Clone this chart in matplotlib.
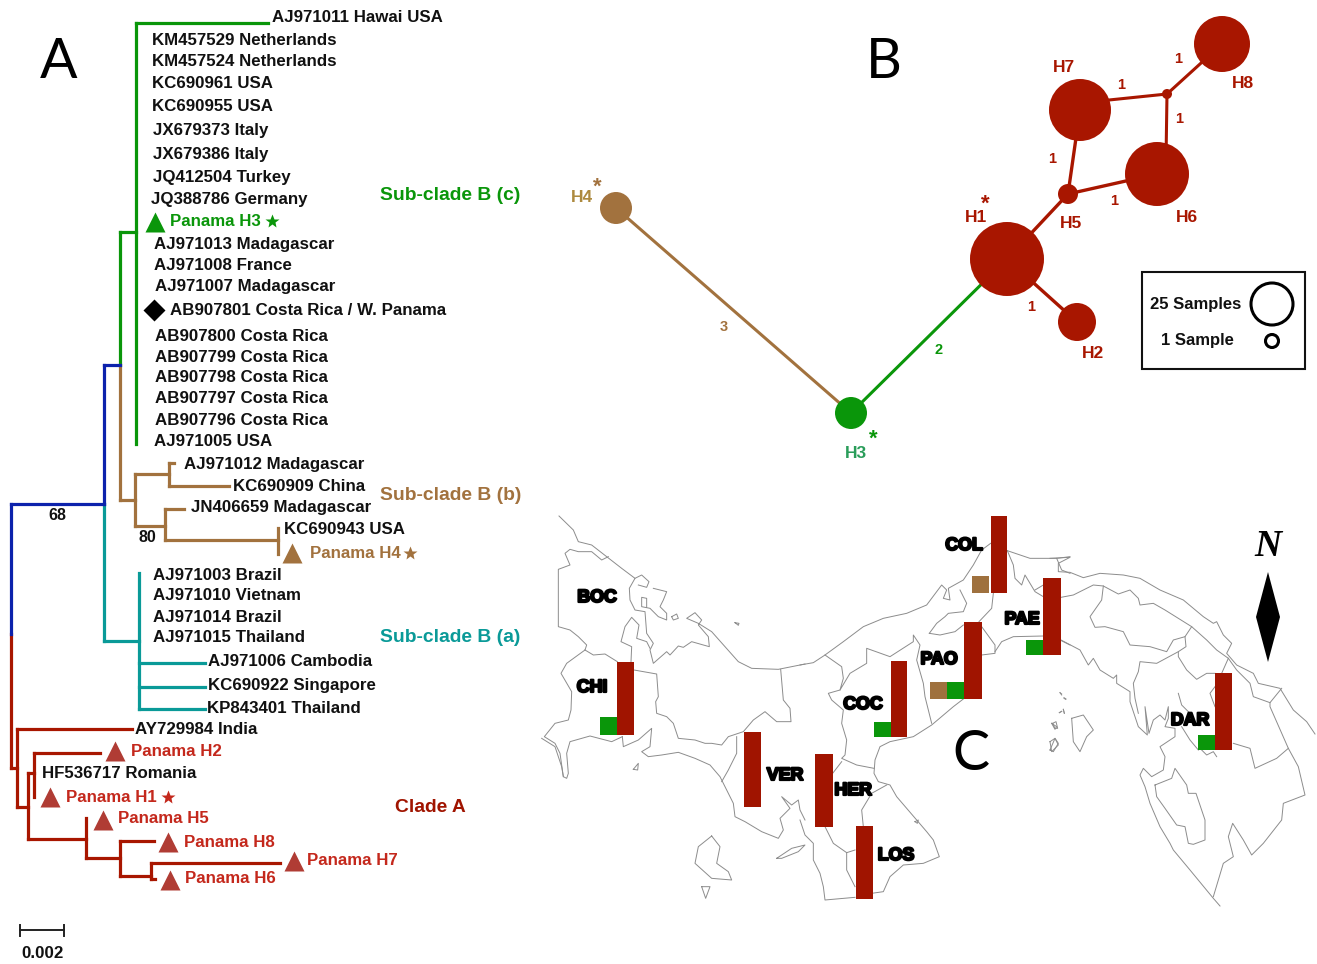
import matplotlib
matplotlib.use("Agg")
import matplotlib.pyplot as plt
import matplotlib.patheffects as pe
from matplotlib.patches import Circle, Rectangle

plt.rcParams['font.family'] = ['Liberation Sans', 'DejaVu Sans']

RED = '#a01400'; DRED = '#a81600'; TXTRED = '#c4281c'; GREEN = '#0a960a'; BROWN = '#a2723e'; TEAL = '#0a9a98'; BLUE = '#0c22ac'
TRI_RED = '#b03c34'

# ---------- A: tree ----------
tree_green = [((136,23),(268,23)), ((136,23),(136,444)), ((120,232),(136,232)), ((120,232),(120,365))]
tree_blue = [((104,365),(120,365)), ((104,365),(104,504)), ((11,504),(104,504)), ((11,504),(11,634))]
tree_brown = [((120,365),(120,500)), ((120,500),(134.5,500)), ((134.5,474),(134.5,526)), ((134.5,474),(168.5,474)),
              ((168.5,463),(168.5,485.5)), ((168.5,463),(174,463)), ((168.5,485.5),(229,485.5)),
              ((134.5,526),(165,526)), ((165,509),(165,540)), ((165,509),(184,509)), ((165,540),(278,540)), ((278,528),(278,554))]
tree_teal = [((104,504),(104,641)), ((104,641),(138.5,641)), ((138.5,573),(138.5,709)),
             ((138.5,663),(205,663)), ((138.5,686.5),(205,686.5)), ((138.5,709),(205,709))]
tree_red = [((11,634),(11,768)), ((11,768),(17,768)), ((17,729),(17,807)), ((17,729),(132,729)), ((17,807),(28,807)),
            ((28,773),(28,839)), ((28,773),(34,773)), ((34,753),(34,797)), ((34,753),(100,753)),
            ((28,839),(85.5,839)), ((85.5,818),(85.5,858)), ((85.5,858),(119.5,858)), ((119.5,840.5),(119.5,876)),
            ((119.5,840.5),(154,840.5)), ((119.5,876),(151,876)), ((151,862.6),(151,879)), ((151,862.6),(280,862.6)), ((151,879),(155,879))]

black_taxa = [("AJ971011 Hawai USA",272,17),("KM457529 Netherlands",152,40),("KM457524 Netherlands",152,61),
    ("KC690961 USA",152,83),("KC690955 USA",152,106),("JX679373 Italy",153,130),("JX679386 Italy",153,154),
    ("JQ412504 Turkey",153,177),("JQ388786 Germany",151,199),("AJ971013 Madagascar",154,244),("AJ971008 France",154,265),
    ("AJ971007 Madagascar",155,286),("AB907801 Costa Rica / W. Panama",170,310),("AB907800 Costa Rica",155,336),
    ("AB907799 Costa Rica",155,357),("AB907798 Costa Rica",155,377),("AB907797 Costa Rica",155,398),
    ("AB907796 Costa Rica",155,420),("AJ971005 USA",154,441),("AJ971012 Madagascar",184,464),("KC690909 China",233,486),
    ("JN406659 Madagascar",191,507),("KC690943 USA",284,529),("AJ971003 Brazil",153,575),("AJ971010 Vietnam",153,595),
    ("AJ971014 Brazil",153,617),("AJ971015 Thailand",153,637),("AJ971006 Cambodia",208,661),("KC690922 Singapore",208,685),
    ("KP843401 Thailand",207,708),("AY729984 India",135,729),("HF536717 Romania",42,773)]
panama_taxa = [("Panama H3",170,221,GREEN),("Panama H4",310,553,BROWN),("Panama H2",131,751,TXTRED),("Panama H1",66,797,TXTRED),
    ("Panama H5",118,818,TXTRED),("Panama H8",184,842,TXTRED),("Panama H7",307,860,TXTRED),("Panama H6",185,878,TXTRED)]
triangles = [(155,222,GREEN),(292,553,BROWN),(115,751,TRI_RED),(50,797,TRI_RED),(103,820,TRI_RED),(168,842,TRI_RED),(294,861,TRI_RED),(170,880,TRI_RED)]
stars = [(272,221,GREEN),(410,553,BROWN),(168,797,TXTRED)]
clade_labels = [("Sub-clade B (c)",380,194,GREEN),("Sub-clade B (b)",380,493,BROWN),("Sub-clade B (a)",380,636,TEAL),("Clade A",395,806,RED)]
support = [("68",57,515),("80",147,537)]

# ---------- B: haplotype network ----------
hap_names = ["H1","H2","H3","H4","H5","H6","H7","H8"]
hap_x = [1007,1077,851,616,1068,1157,1080,1222]
hap_y = [259,322,413,208,194,174,110,44]
hap_r = [37,19,16,16,10,32,31,28]
hap_col = [DRED,DRED,GREEN,BROWN,DRED,DRED,DRED,DRED]
junction = (1167,94,5)
edges = [("H4","H3",BROWN,2.2),("H3","H1",GREEN,2.2),("H1","H2",DRED,2.4),("H1","H5",DRED,2.4),("H5","H7",DRED,2.4),("H5","H6",DRED,2.4)]
junction_ends = [(1080,103),(1166,160),(1222,44)]
hap_labels = [("H4",582,198,'#ad8a3f'),("H3",856,453,'#2a9d5a'),("H1",976,217,DRED),("H5",1071,223,DRED),("H6",1187,217,DRED),
              ("H7",1064,67,DRED),("H8",1243,84,DRED),("H2",1093,353,DRED)]
hap_stars = [(597,184,BROWN),(873,436,GREEN),(985,201,DRED)]
edge_labels = [("3",724,327,BROWN),("2",939,350,GREEN),("1",1031,307,DRED),("1",1052,159,DRED),("1",1114,201,DRED),
               ("1",1121,85,DRED),("1",1178,59,DRED),("1",1179,119,DRED)]

# ---------- C: map outline traces (x, y in crop units: origin + value/3) ----------
map_left = [
 [(72,18),(115,60),(130,95),(170,105),(215,140),(260,175),(300,205),(283,235),(285,270),(300,300),(330,305),(335,370),(355,400),(345,420),(355,460),(395,425),(405,435),(430,408),(445,412),(470,395),(505,405),(523,410),(520,380),(490,345),(500,330),(480,308),(455,325),(490,340),(530,365),(570,410),(610,455),(650,475),(730,478),(810,462)],
 [(300,205),(320,195),(342,215),(335,232),(310,225)],
 [(355,235),(395,245),(385,270),(375,290),(395,310),(395,330),(370,320),(345,295),(320,290),(320,262),(335,265),(335,290)],
 [(150,420),(155,405),(130,380),(105,360),(70,350),(70,178),(105,165),(90,130),(105,118),(130,125),(170,125),(200,150),(220,140)],
 [(150,420),(175,435),(210,432),(247,455)],
 [(288,455),(290,410),(258,395),(270,350),(290,322),(312,345),(305,385),(335,395),(345,415)],
 [(150,420),(95,460),(78,490),(110,545),(108,600),(100,630),(60,640),(28,680),(60,700),(75,730),(85,800),(95,805),(100,790),(95,730),(105,695),(165,678),(230,695),(262,680)],
 [(20,685),(60,710),(80,770),(85,800)],
 [(297,480),(365,492),(370,560),(362,575),(365,610),(395,620),(415,640),(430,685),(480,690),(510,700),(530,700),(560,705),(580,680),(625,665),(655,630),(690,605),(725,635),(768,635),(765,595),(745,570),(737,478)],
 [(262,680),(265,710),(310,690),(350,655),(345,710),(320,725),(340,740),(380,735),(430,727),(480,745),(525,765),(555,800),(575,840),(595,880),(600,920),(630,935),(680,965),(730,985),(745,960),(735,925),(765,895),(740,860),(770,885),(790,870),(795,900),(810,930)],
 [(605,680),(605,730),(580,780),(560,815)],
 [(530,978),(490,1010),(480,1060),(530,1105),(590,1110),(580,1085),(545,1060),(555,1010),(530,978)],
 [(500,1130),(525,1130),(512,1165),(500,1130)],
 [(295,778),(310,760),(308,780),(295,778)],
 [(410,320),(425,312),(430,325),(415,330),(410,320)],
 [(600,338),(612,340),(610,346),(600,338)],
 [(725,1045),(770,1015),(810,1005),(790,1025),(740,1045),(725,1045)],
]
map_mid = [
 [(0,465),(40,458),(75,435),(130,395),(190,350),(250,325),(320,310),(380,285),(425,225),(440,240),(430,265),(450,270),(445,235),(490,210),(520,165),(545,120),(572,100)],
 [(622,122),(690,145),(770,145),(785,180),(810,190)],
 [(770,145),(810,140)],
 [(75,435),(125,470),(130,505),(120,540),(150,490),(200,460),(200,415),(270,440),(340,395),(340,375),(360,405),(350,450),(370,520),(375,560),(395,640)],
 [(120,540),(85,550),(95,570),(130,600),(125,640),(140,690),(135,735),(125,745),(170,765),(222,775)],
 [(98,790),(125,755)],
 [(490,567),(460,590),(395,645),(340,680),(270,695),(240,710),(225,750),(222,790),(235,815),(270,825),(290,860),(350,930),(380,965),(400,990),(418,1040),(370,1060),(310,1065),(270,1100),(250,1145),(215,1150)],
 [(165,1162),(75,1170),(70,1130),(60,1090),(40,1050),(40,1000),(15,975),(0,930)],
 [(260,825),(215,850),(185,900),(190,950)],
 [(75,950),(100,1000),(140,1028),(165,1020)],
 [(140,1028),(140,1080),(165,1130)],
 [(388,370),(410,340),(435,320),(445,310),(490,305),(500,280),(480,240)],
 [(388,370),(420,375),(465,365),(490,345)],
 [(537,335),(575,295),(580,250)],
 [(545,350),(585,405),(585,430),(545,435)],
 [(585,425),(605,395),(640,380),(730,378)],
 [(622,122),(640,165),(645,205),(665,225),(675,195),(705,245),(730,260)],
 [(705,240),(730,225)],
 [(784,392),(810,405)],
 [(345,935),(355,930),(352,940),(345,935)],
 [(758,640),(768,635),(773,655),(765,655),(758,640)],
 [(750,720),(765,685),(775,700),(760,725),(750,720)],
 [(780,548),(785,552)],[(792,565),(797,568)],[(778,608),(785,604)],[(790,598),(793,610)],
]
map_right = [
 [(0,145),(60,142),(25,160),(25,185),(60,187),(100,203),(150,190),(220,195),(270,205),(330,240),(400,270),(460,320),(490,340),(500,335),(520,375),(545,400),(530,430),(560,465),(610,490),(625,520),(690,535),(730,600),(770,635),(795,672)],
 [(33,262),(70,255),(130,225),(160,228),(205,252),(240,240),(265,265),(270,285),(310,280),(345,300),(385,325),(425,350),(470,390),(500,420),(535,445),(560,480),(600,520),(610,560),(660,578),(695,535)],
 [(160,228),(155,270),(120,320),(135,352),(165,350),(220,365),(240,405),(300,410),(350,425),(370,390),(405,380),(425,350)],
 [(405,380),(408,410),(385,425),(385,440),(410,480),(440,508),(470,490),(495,490)],
 [(535,445),(515,490)],
 [(385,425),(320,460),(270,455),(265,485),(250,520),(255,565),(265,610)],
 [(33,390),(90,420),(115,465),(130,445),(150,480),(190,505),(200,495),(200,520),(240,545),(240,575),(265,650),(292,675),(285,590),(297,670),(310,630),(330,615),(345,630),(355,590),(355,625),(345,650),(375,655),(375,680),(330,710),(345,740),(340,780),(305,800),(280,775),(270,795),(285,830),(300,880),(330,950),(360,1000),(370,1020),(420,1080),(490,1165),(510,1188)],
 [(490,1160),(520,1060),(550,1040),(535,980),(548,940),(580,990),(605,1035),(640,1000),(695,930),(700,880),(765,855),(745,770),(715,715),(660,590),(660,578)],
 [(715,715),(680,745),(615,775),(600,715),(550,700)],
 [(315,825),(365,805),(375,775),(410,825),(415,850),(438,850),(465,930),(465,990),(430,1003),(415,1000),(405,950),(380,945),(345,895),(320,860),(315,825)],
 [(385,550),(395,585),(420,610)],[(395,650),(420,690),(445,720)],[(455,720),(470,735),(490,725),(500,740)],[(495,530),(480,550),(495,590)],
 [(65,625),(100,615),(130,660),(110,680),(90,725),(70,695),(65,625)],
 [(5,640),(20,650),(15,658),(5,640)],[(0,695),(15,685),(25,705),(5,725),(0,695)],
 [(30,548),(35,555)],[(42,563),(48,567)],[(28,608),(35,604)],[(40,598),(43,610)],
]
map_origins = [(535,510),(800,510),(1050,510)]

provinces = ["CHI","VER","COC","PAO","COL","PAE","HER","LOS","DAR"]
prov_x = [617.3,744.3,890.7,964,990.7,1043.3,815,856,1215.3]
prov_top = [661.7,732.3,660.7,622,515.7,578,754.3,826.3,673.3]
red_h = [73.3,74.4,76.6,77,77.6,77,72.7,72.7,76.7]
red_w = [16.7,16.7,16.6,17.7,16.6,18,17.7,16.7,16.4]
green_h = [17.7,0,15.3,16.7,0,15,0,0,15]
brown_h = [0,0,0,16.7,17.3,0,0,0,0]
map_labels = [("BOC",597,596),("CHI",592,686),("VER",785,774),("COC",863,703),("HER",853,789),("LOS",896,854),
              ("PAO",939,658),("COL",964,544),("PAE",1022,618),("DAR",1190,719)]

fig = plt.figure(figsize=(13.17,9.64), dpi=100)
ax = fig.add_axes([0,0,1,1])
ax.set_xlim(0,1317); ax.set_ylim(964,0); ax.axis('off')

# tree
for segs,c in [(tree_green,GREEN),(tree_brown,BROWN),(tree_teal,TEAL),(tree_red,DRED),(tree_blue,BLUE)]:
    for (a,b) in segs:
        ax.plot([a[0],b[0]],[a[1],b[1]],color=c,lw=2.3,solid_capstyle='projecting',zorder=2)
ax.plot([20,64],[930,930],color='#222222',lw=1.4)
for x in (20,64):
    ax.plot([x,x],[925,936],color='#222222',lw=1.4)
tk = dict(fontsize=12.2,fontweight='bold',va='center',ha='left')
for t,x,y in black_taxa:
    ax.text(x,y+0.5,t,color='#111111',**tk)
for t,x,y,c in panama_taxa:
    ax.text(x,y+0.5,t,color=c,**tk)
for x,y,c in triangles:
    ax.plot([x],[y],marker='^',ms=15,color=c,mec='none',ls='none',zorder=3)
ax.plot([154],[310],marker='D',ms=11.5,color='k',mec='none',ls='none',zorder=3)
for x,y,c in stars:
    ax.plot([x],[y],marker='*',ms=10,color=c,mec='none',ls='none')
for t,x,y,c in clade_labels:
    ax.text(x,y+2,t,color=c,fontsize=13.9,fontweight='bold',va='center',ha='left')
for t,x,y in support:
    ax.text(x,y,t,color='#111111',fontsize=11.5,fontweight='bold',va='center',ha='center')
ax.text(42,954,"0.002",color='#111111',fontsize=12.2,fontweight='bold',va='center',ha='center')

# network
pos = {n:(x,y) for n,x,y in zip(hap_names,hap_x,hap_y)}
for a,b,c,lw in edges:
    ax.plot([pos[a][0],pos[b][0]],[pos[a][1],pos[b][1]],color=c,lw=lw,zorder=2)
for ex,ey in junction_ends:
    ax.plot([junction[0],ex],[junction[1],ey],color=DRED,lw=2.2,zorder=2)
for x,y,r,c in zip(hap_x,hap_y,hap_r,hap_col):
    ax.add_patch(Circle((x,y),r,color=c,ec='none',zorder=3))
ax.add_patch(Circle(junction[:2],junction[2],color=DRED,ec='none',zorder=3))
for t,x,y,c in hap_labels:
    ax.text(x,y,t,color=c,fontsize=12.5,fontweight='bold',va='center',ha='center')
for t,x,y,c in edge_labels:
    ax.text(x,y,t,color=c,fontsize=10.5,fontweight='bold',va='center',ha='center')
for x,y,c in hap_stars:
    ax.text(x,y+3,"*",color=c,fontsize=16,fontweight='bold',va='center',ha='center',clip_on=False)
ax.add_patch(Rectangle((1142,272),163,97,fc='white',ec='#111111',lw=1.5,zorder=2))
ax.add_patch(Circle((1272,304),21,fc='white',ec='k',lw=2.2,zorder=3))
ax.add_patch(Circle((1272,341),6.5,fc='white',ec='k',lw=2.2,zorder=3))
ax.text(1196,304,"25 Samples",fontsize=12,fontweight='bold',color='#111111',va='center',ha='center')
ax.text(1197,340,"1 Sample",fontsize=12,fontweight='bold',color='#111111',va='center',ha='center')

# map
for traces,(ox,oy) in zip((map_left,map_mid,map_right),map_origins):
    for tr in traces:
        ax.plot([ox+p[0]/3 for p in tr],[oy+p[1]/3 for p in tr],color='#8c8c8c',lw=0.7,zorder=1,solid_joinstyle='round')
SQ = 17
for n,x,top,rh,rw,gh,bh in zip(provinces,prov_x,prov_top,red_h,red_w,green_h,brown_h):
    ax.bar(x,rh,width=rw,bottom=top,align='edge',color=RED,ec='none',zorder=4)
    base = top+rh
    nx = x
    if gh:
        nx -= SQ
        ax.bar(nx,gh,width=SQ,bottom=base-gh,align='edge',color=GREEN,ec='none',zorder=4)
    if bh:
        nx -= SQ+(1.3 if not gh else 0)
        ax.bar(nx,bh,width=SQ,bottom=base-bh,align='edge',color='#9f713e',ec='none',zorder=4)
for t,x,y in map_labels:
    ax.text(x,y+1.5,t,fontsize=12.8,fontweight='bold',color='k',va='center',ha='center',zorder=5,
            path_effects=[pe.withStroke(linewidth=1.6,foreground='k')])

ax.fill([1268,1280,1268,1256],[572,617,662,617],color='k',ec='none')
ax.text(1268,546,"N",family='Liberation Serif',style='italic',fontweight='bold',fontsize=27,color='k',va='center',ha='center')

for t,x,y in [("A",59,62),("B",884,63),("C",971,755)]:
    ax.text(x,y,t,family='Lato',fontweight='normal',fontsize=40,color='k',va='center',ha='center')

fig.savefig('out.png',dpi=100)
